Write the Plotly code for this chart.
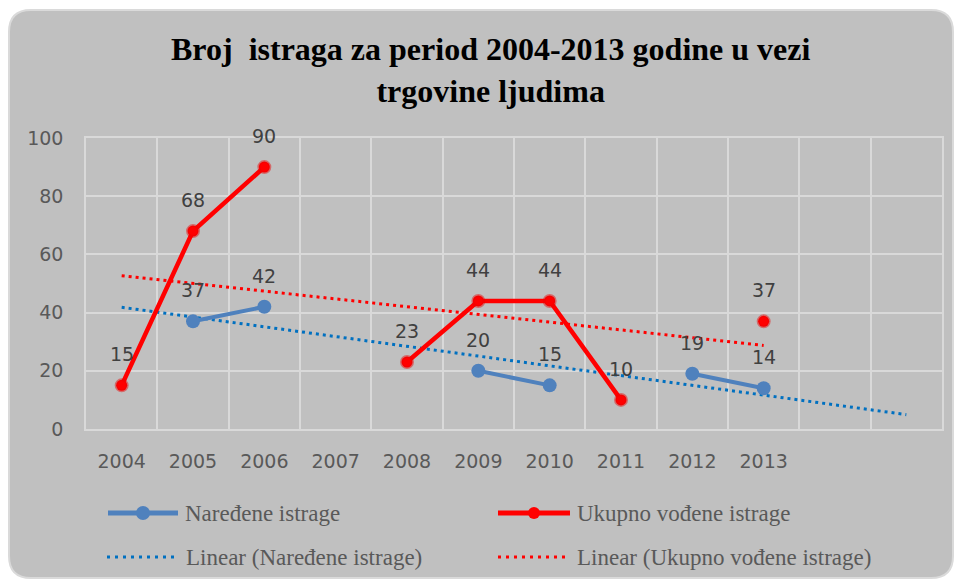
import numpy as np
import plotly.graph_objects as go

# Years on the category axis (two extra empty slots follow 2013)
years = ["2004", "2005", "2006", "2007", "2008", "2009", "2010", "2011", "2012", "2013"]
extra_slots = 2

# Number of investigations per year (None = no value for that year)
naredene = [None, 37, 42, None, None, 20, 15, None, 19, 14]
ukupno = [15, 68, 90, None, 23, 44, 44, 10, None, 37]

name_nar = "Naređene istrage"
name_uk = "Ukupno vođene istrage"
title_text = "Broj  istraga za period 2004-2013 godine u vezi<br>trgovine ljudima"

BLUE = "#4f81bd"
BLUE_TREND = "#0070c0"
RED = "#ff0000"
GRID = "#d9d9d9"
BG = "#c0c0c0"

W, H = 959, 581
L, R, T, B = 86, 942, 138, 429


def xp(px):
    return (px - L) / (R - L)


def yp(py):
    return (B - py) / (B - T)


x_idx = list(range(len(years)))


def trend(values, forward):
    xs = np.array([i for i, v in zip(x_idx, values) if v is not None], dtype=float)
    ys = np.array([v for v in values if v is not None], dtype=float)
    slope, icpt = np.polyfit(xs, ys, 1)
    tx = np.array([0.0, len(values) - 1 + forward])
    return tx, slope * tx + icpt


fig = go.Figure()

# Linear trend lines
tx_b, ty_b = trend(naredene, extra_slots)
tx_r, ty_r = trend(ukupno, 0)
fig.add_trace(go.Scatter(x=tx_r, y=ty_r, mode="lines",
                         line=dict(color=RED, width=3, dash="3px,4px"),
                         hoverinfo="skip", showlegend=False))
fig.add_trace(go.Scatter(x=tx_b, y=ty_b, mode="lines",
                         line=dict(color=BLUE_TREND, width=3, dash="3px,4px"),
                         hoverinfo="skip", showlegend=False))

# Series
fig.add_trace(go.Scatter(x=x_idx, y=naredene, mode="lines+markers", name=name_nar,
                         line=dict(color=BLUE, width=4),
                         marker=dict(color=BLUE, size=14),
                         connectgaps=False, showlegend=False))
fig.add_trace(go.Scatter(x=x_idx, y=ukupno, mode="lines+markers", name=name_uk,
                         line=dict(color=RED, width=4.5),
                         marker=dict(color=RED, size=11,
                                     line=dict(color="rgba(235,0,0,0.45)", width=3)),
                         connectgaps=False, showlegend=False))

annotations = []
# Data labels above each point
for series in (naredene, ukupno):
    for i, v in zip(x_idx, series):
        if v is None:
            continue
        annotations.append(dict(x=i, y=v, text=str(v), showarrow=False, yshift=31,
                                font=dict(family="DejaVu Sans", size=19, color="#404040")))

# Title
annotations.append(dict(xref="paper", yref="paper", x=xp(490), y=yp(70),
                        text="<b>" + title_text + "</b>", showarrow=False,
                        xanchor="center", yanchor="middle",
                        font=dict(family="Liberation Serif", size=32, color="#000000")))

shapes = []
# Rounded chart background
x0, x1, y0, y1, rad = 9, 953, 10, 578, 22
path = (f"M{xp(x0 + rad)},{yp(y0)} L{xp(x1 - rad)},{yp(y0)} "
        f"Q{xp(x1)},{yp(y0)} {xp(x1)},{yp(y0 + rad)} "
        f"L{xp(x1)},{yp(y1 - rad)} Q{xp(x1)},{yp(y1)} {xp(x1 - rad)},{yp(y1)} "
        f"L{xp(x0 + rad)},{yp(y1)} Q{xp(x0)},{yp(y1)} {xp(x0)},{yp(y1 - rad)} "
        f"L{xp(x0)},{yp(y0 + rad)} Q{xp(x0)},{yp(y0)} {xp(x0 + rad)},{yp(y0)} Z")
shapes.append(dict(type="path", xref="paper", yref="paper", path=path, layer="below",
                   fillcolor=BG, line=dict(color="#dadada", width=2)))

# Legend drawn as shapes and text
legend_font = dict(family="Liberation Serif", size=23, color="#595959")
rows = [513, 557]
entries = [
    dict(x0=108, x1=178, y=rows[0], color=BLUE, width=5, dash="solid", mk=7,
         tx=183, text=name_nar),
    dict(x0=498, x1=570, y=rows[0], color=RED, width=5, dash="solid", mk=6,
         tx=575, text=name_uk),
    dict(x0=107, x1=174, y=rows[1], color=BLUE_TREND, width=3, dash="3px,5px", mk=0,
         tx=184, text="Linear (" + name_nar + ")"),
    dict(x0=498, x1=565, y=rows[1], color=RED, width=3, dash="3px,5px", mk=0,
         tx=575, text="Linear (" + name_uk + ")"),
]
for e in entries:
    shapes.append(dict(type="line", xref="paper", yref="paper",
                       x0=xp(e["x0"]), x1=xp(e["x1"]), y0=yp(e["y"]), y1=yp(e["y"]),
                       line=dict(color=e["color"], width=e["width"], dash=e["dash"])))
    if e["mk"]:
        cx = (e["x0"] + e["x1"]) / 2
        r = e["mk"]
        shapes.append(dict(type="circle", xref="paper", yref="paper",
                           x0=xp(cx - r), x1=xp(cx + r), y0=yp(e["y"] - r), y1=yp(e["y"] + r),
                           fillcolor=e["color"], line=dict(color=e["color"], width=0)))
    annotations.append(dict(xref="paper", yref="paper", x=xp(e["tx"]), y=yp(e["y"]),
                            text=e["text"], showarrow=False, xanchor="left",
                            yanchor="middle", font=legend_font))

n_slots = len(years) + extra_slots
fig.update_layout(
    width=W, height=H, autosize=False,
    margin=dict(l=L, r=W - R, t=T, b=H - B, pad=0),
    paper_bgcolor="#ffffff",
    plot_bgcolor="rgba(0,0,0,0)",
    showlegend=False,
    shapes=shapes,
    annotations=annotations,
    xaxis=dict(
        range=[-0.5, n_slots - 0.5],
        tickmode="array", tickvals=x_idx, ticktext=years,
        showgrid=False, zeroline=False,
        ticks="outside", ticklen=14, tickcolor="rgba(0,0,0,0)",
        tickfont=dict(family="DejaVu Sans", size=19, color="#595959"),
        showline=True, mirror=True, linecolor=GRID, linewidth=1.5,
        minor=dict(tickmode="array", tickvals=[i - 0.5 for i in range(n_slots + 1)],
                   showgrid=True, gridcolor=GRID, gridwidth=1.5, ticks=""),
        fixedrange=True,
    ),
    yaxis=dict(
        range=[0, 100], tickmode="linear", tick0=0, dtick=20,
        showgrid=True, gridcolor=GRID, gridwidth=1.5, zeroline=False,
        ticks="outside", ticklen=17, tickcolor="rgba(0,0,0,0)",
        tickfont=dict(family="DejaVu Sans", size=19, color="#595959"),
        showline=True, mirror=True, linecolor=GRID, linewidth=1.5,
        fixedrange=True,
    ),
)

fig.write_html("out.html", config={"displayModeBar": False})
